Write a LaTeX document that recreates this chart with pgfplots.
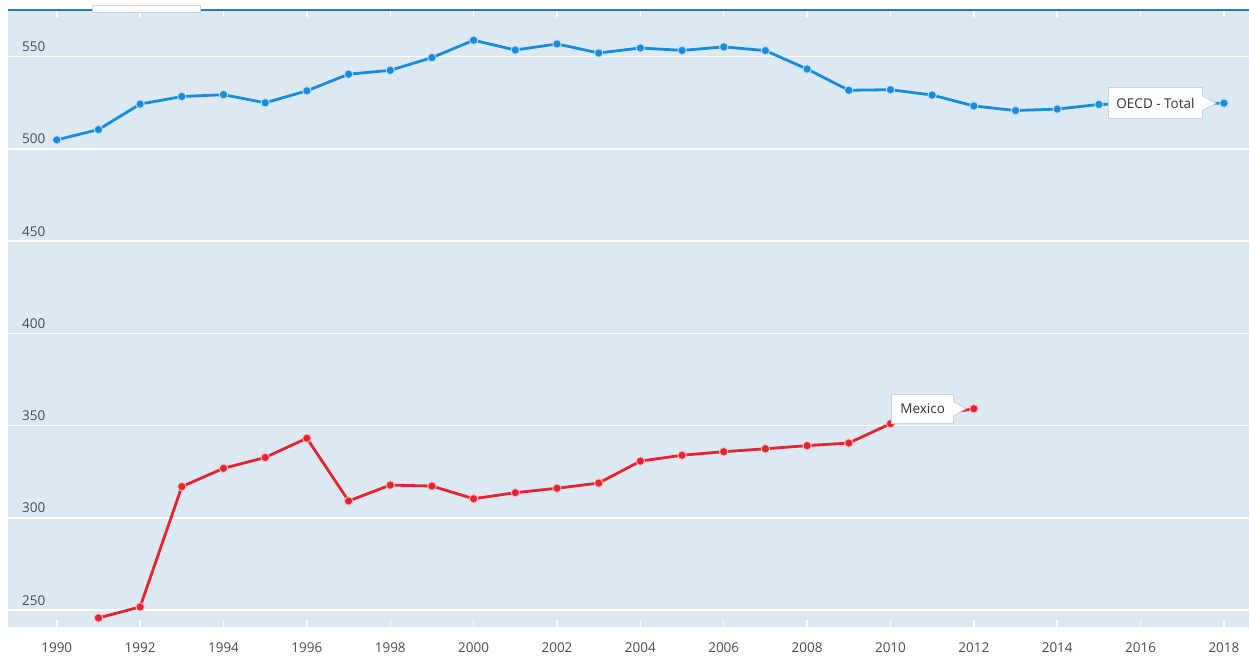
\documentclass[border=0pt]{standalone}
\usepackage{fontspec}
\setmainfont{Open Sans}
\usepackage{pgfplots}
\pgfplotsset{compat=1.18}
\definecolor{bgc}{RGB}{221,233,242}
\definecolor{oecdc}{RGB}{24,140,220}
\definecolor{mexc}{RGB}{230,35,48}
\definecolor{topc}{RGB}{30,125,205}
\definecolor{tickc}{RGB}{75,75,75}
\definecolor{boxc}{RGB}{200,214,228}
\begin{document}
\begin{tikzpicture}
\path[use as bounding box] (-8pt,-33pt) rectangle (1241pt,627pt);
\begin{axis}[
  name=ax,
  scale only axis,
  width=1241pt, height=617pt,
  xmin=1988.83, xmax=2018.6,
  ymin=240.9, ymax=575.3,
  axis background/.style={fill=bgc},
  axis line style={draw=none},
  xtick={1990,1992,...,2018},
  ytick={250,300,...,550},
  xticklabel style={anchor=north, inner sep=0pt, yshift=-16pt, text=tickc, font=\fontsize{13.5}{16}\selectfont},
  yticklabel style={anchor=base west, inner sep=0pt, xshift=14pt, yshift=5pt, text=tickc, font=\fontsize{13.5}{16}\selectfont},
  /pgf/number format/assume math mode=true,
  /pgf/number format/1000 sep={},
  tick align=inside,
  major tick length=7pt,
  xtick style={draw=white, line width=1.5pt},
  ytick style={draw=none},
  ymajorgrids,
  grid style={draw=white, line width=1.5pt},
  clip=false,
]
\addplot[color=oecdc, line width=2.8pt, mark=*, mark size=4.2pt,
  mark options={fill=oecdc, draw=white!70!oecdc, line width=0.9pt}]
  coordinates {
  (1990,504.9) (1991,510.5) (1992,524.3) (1993,528.4) (1994,529.4) (1995,525.0)
  (1996,531.5) (1997,540.5) (1998,542.6) (1999,549.5) (2000,558.9) (2001,553.6)
  (2002,556.9) (2003,552.0) (2004,554.7) (2005,553.4) (2006,555.3) (2007,553.3)
  (2008,543.3) (2009,531.8) (2010,532.1) (2011,529.2) (2012,523.3) (2013,520.8)
  (2014,521.6) (2015,524.1) (2016,524.5) (2017,524.6) (2018,524.8)
  };
\addplot[color=mexc, line width=2.8pt, mark=*, mark size=4.2pt,
  mark options={fill=mexc, draw=white!70!mexc, line width=0.9pt}]
  coordinates {
  (1991,245.8) (1992,251.8) (1993,317.0) (1994,326.9) (1995,332.8) (1996,343.2)
  (1997,309.2) (1998,317.8) (1999,317.3) (2000,310.4) (2001,313.7) (2002,316.1)
  (2003,318.9) (2004,330.8) (2005,334.0) (2006,335.9) (2007,337.5) (2008,339.2)
  (2009,340.6) (2010,351.1) (2011,355.5) (2012,359.2)
  };
\coordinate (po) at (axis cs:2018,524.8);
\coordinate (pm) at (axis cs:2012,359.2);
\end{axis}
\draw[topc, line width=1.5pt] (ax.north west) -- (ax.north east);
\node[draw=boxc, fill=white, line width=0.8pt, inner xsep=8pt, inner ysep=0pt, minimum height=31pt,
  anchor=east, text=black!80, font=\fontsize{13.5}{16}\selectfont] (lo) at ([xshift=-21pt]po) {OECD - Total};
\fill[white] ([yshift=7pt,xshift=-1pt]lo.east) -- ([xshift=-8pt]po) -- ([yshift=-7pt,xshift=-1pt]lo.east) -- cycle;
\draw[boxc, line width=0.8pt] ([yshift=7pt]lo.east) -- ([xshift=-8pt]po) -- ([yshift=-7pt]lo.east);
\node[draw=boxc, fill=white, line width=0.8pt, inner xsep=8.5pt, inner ysep=0pt, minimum height=29pt,
  anchor=east, text=black!80, font=\fontsize{13.5}{16}\selectfont] (lm) at ([xshift=-20pt]pm) {Mexico};
\fill[white] ([yshift=7pt,xshift=-1pt]lm.east) -- ([xshift=-8pt]pm) -- ([yshift=-7pt,xshift=-1pt]lm.east) -- cycle;
\draw[boxc, line width=0.8pt] ([yshift=7pt]lm.east) -- ([xshift=-8pt]pm) -- ([yshift=-7pt]lm.east);
\filldraw[fill=white, draw=boxc, line width=0.8pt] ([xshift=84pt,yshift=-2pt]ax.north west) rectangle ([xshift=192pt,yshift=5pt]ax.north west);
\end{tikzpicture}
\end{document}
